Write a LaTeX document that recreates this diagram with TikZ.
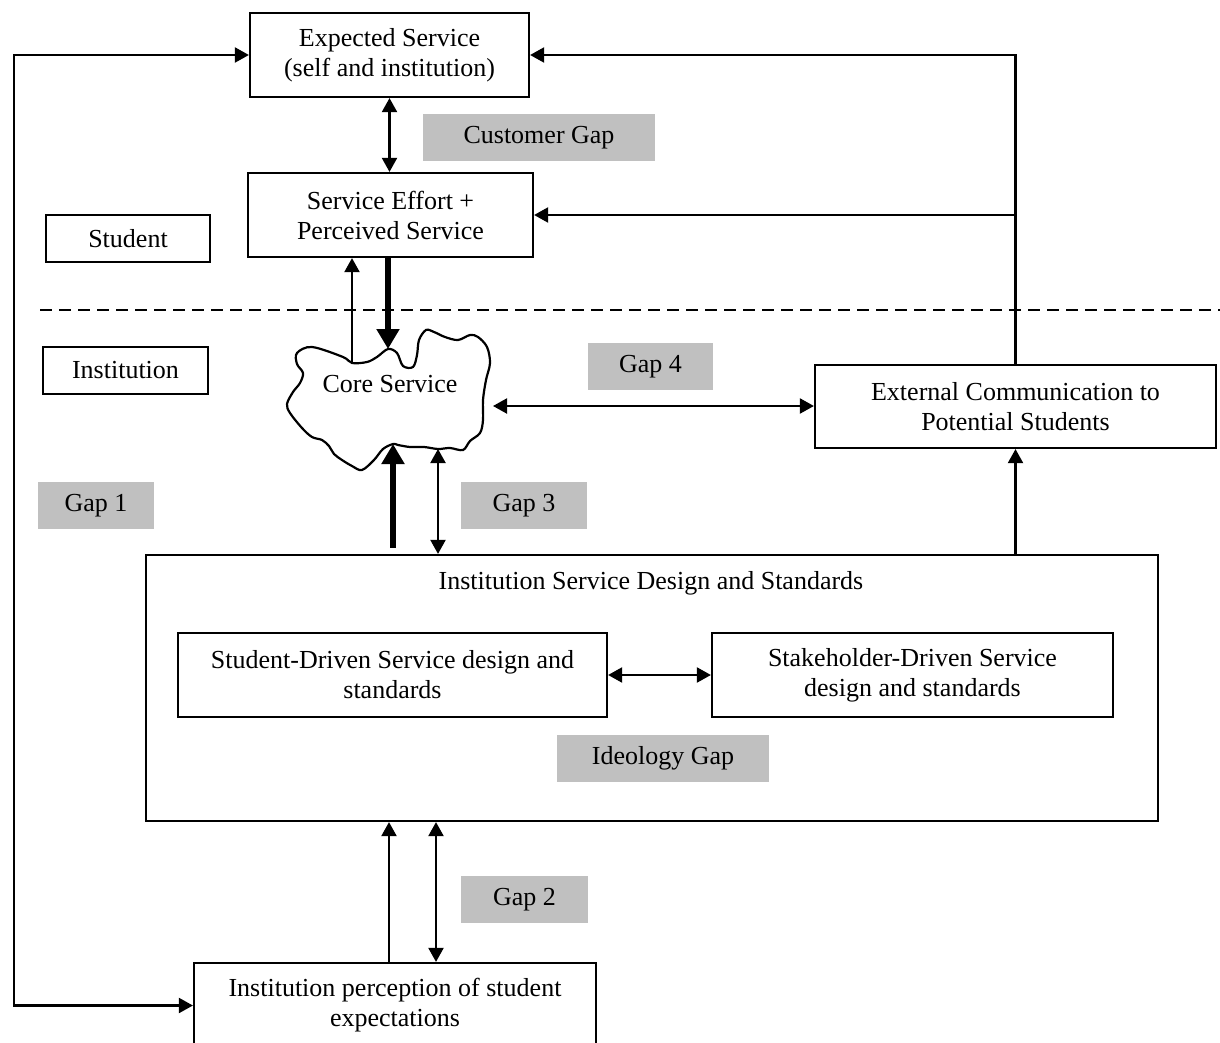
\documentclass[tikz,border=0pt]{standalone}
\usepackage{fontspec}
\setmainfont{Liberation Serif}
\usetikzlibrary{arrows.meta}
\definecolor{gapgrey}{HTML}{C0C0C0}
\begin{document}
\begin{tikzpicture}[x=0.5pt,y=-0.5pt,
  txt/.style={font=\fontsize{13}{15}\selectfont, align=center},
  wh/.style 2 args={minimum width=#1*0.5pt, minimum height=#2*0.5pt},
  box/.style={draw, line width=1.1pt, inner sep=0pt, txt},
  gapbox/.style={fill=gapgrey, inner sep=0pt, txt},
  arr/.style={line width=1.05pt, -{Triangle[length=7pt,width=7.5pt]}},
  darr/.style={line width=1.05pt, {Triangle[length=7pt,width=7.5pt]}-{Triangle[length=7pt,width=7.5pt]}},
  bigarr/.style={line width=3.3pt, -{Triangle[length=10pt,width=11pt]}},
  divider/.style={line width=1pt, dash pattern=on 6pt off 3.5pt}]
\clip (0,0) rectangle (1220,1043);

% boxes
\node[box, wh={279}{84}] (exp) at (389.5,55) {Expected Service\\(self and institution)};
\node[box, wh={285}{84}] (se) at (390.5,215) {Service Effort +\\Perceived Service};
\node[box, wh={164}{47}] (stu) at (128,238.5) {Student};
\node[box, wh={165}{47}] (inst) at (125.5,370.5) {Institution};
\node[box, wh={401}{83}] (ext) at (1015.5,406.5) {External Communication to\\Potential Students};
\node[box, wh={1012}{266}] (isd) at (652,688) {};
\node[txt] (isdtitle) at (651,583) {Institution Service Design and Standards};
\node[box, wh={429}{84}] (sd) at (392.5,675) {Student-Driven Service design and\\standards};
\node[box, wh={401}{84}] (sh) at (912.5,675) {Stakeholder-Driven Service\\design and standards};
\node[box, wh={402}{85}] (perc) at (395,1005.5) {Institution perception of student\\expectations};

% gap labels
\node[gapbox, wh={232}{47}] (cgap) at (539,137.5) {Customer Gap};
\node[gapbox, wh={125}{47}] (gap4) at (650.5,366.5) {Gap 4};
\node[gapbox, wh={116}{47}] (gap1) at (96,505.5) {Gap 1};
\node[gapbox, wh={126}{47}] (gap3) at (524,505.5) {Gap 3};
\node[gapbox, wh={212}{47}] (igap) at (663,758.5) {Ideology Gap};
\node[gapbox, wh={127}{47}] (gap2) at (524.5,899.5) {Gap 2};

% cloud
\draw[line width=1.1pt, fill=white] plot[smooth cycle, tension=0.55] coordinates {
 (297,353) (312,347) (343,357) (352,363) (367,362) (377,357) (388,349) (397,353)
 (403,366) (413,367) (417,355) (419,340) (426,330) (434,332) (445,337) (458,340)
 (470,335) (478,337) (487,347) (490,363) (486,380) (483,400) (483,420) (480,433)
 (470,441) (463,450) (450,448) (438,449) (424,447) (410,447) (398,445) (393,444)
 (383,449) (374,460) (362,470) (352,466) (342,460) (334,454) (329,446) (322,440)
 (312,437) (302,428) (290,413) (287,404) (293,392) (300,383) (303,373) (297,364)};
\node[txt] (core) at (390,384) {Core Service};
\coordinate (cA) at (352,363);
\coordinate (cB) at (388,349);
\coordinate (cR) at (493,406);
\coordinate (cC) at (393,444);
\coordinate (cD) at (438,449);
\coordinate (cornerL) at (14,500);
\coordinate (dashL) at (40,310);
\coordinate (dashR) at (1220,310);

% divider
\draw[divider] (dashL) -- (dashR);

% connectors
\draw[darr] (exp.south) -- (exp.south |- se.north);
\draw[darr] (exp.west) -| (cornerL) |- (perc.west);
\draw[arr] (ext.north) -- (ext.north |- exp.east) -- (exp.east);
\draw[arr] (ext.north |- se.east) -- (se.east);
\draw[arr] (cA) -- (cA |- se.south);
\draw[bigarr] (se.south -| cB) -- (cB);
\draw[darr] (cR) -- (ext.west |- cR);
\draw[bigarr, shorten <=3pt] (isd.north -| cC) -- (cC);
\draw[darr] (cD) -- (cD |- isd.north);
\draw[arr] (isd.north -| ext.south) -- (ext.south);
\draw[darr] (sd.east) -- (sh.west);
\draw[arr] ([xshift=-3pt]perc.north) -- ([xshift=-3pt]perc.north |- isd.south);
\draw[darr] ([xshift=20.5pt]perc.north) -- ([xshift=20.5pt]perc.north |- isd.south);
\end{tikzpicture}
\end{document}
